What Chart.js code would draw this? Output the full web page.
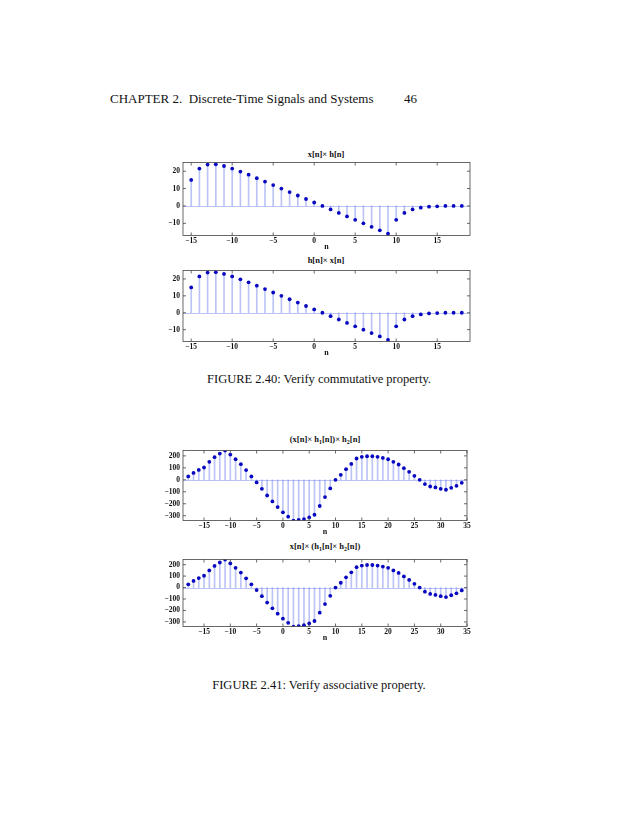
<!DOCTYPE html>
<html><head><meta charset="utf-8">
<script src="https://cdn.jsdelivr.net/npm/chart.js@4"></script>
<style>
html,body{margin:0;padding:0;background:#fff;}
#page{position:relative;width:638px;height:826px;background:#fff;font-family:"Liberation Serif","Times New Roman",serif;color:#111;}
.t{position:absolute;white-space:nowrap;}
.ttl{position:absolute;font-weight:bold;font-size:8.5px;transform:translate(-50%,-50%);white-space:nowrap;}
.ttl sub{font-size:6px;vertical-align:-2px;line-height:0;}
canvas{position:absolute;}
</style></head>
<body><div id="page">
<div class="t" style="left:110px;top:91px;font-size:13px;">CHAPTER 2.&nbsp; Discrete-Time Signals and Systems</div>
<div class="t" style="left:404px;top:91px;font-size:13px;">46</div>
<div class="ttl" style="left:326px;top:154px;">x[n]× h[n]</div>
<div class="ttl" style="left:326px;top:260px;">h[n]× x[n]</div>
<div class="ttl" style="left:325px;top:439px;">(x[n]× h<sub>1</sub>[n])× h<sub>2</sub>[n]</div>
<div class="ttl" style="left:325px;top:546px;">x[n]× (h<sub>1</sub>[n]× h<sub>2</sub>[n])</div>
<canvas id="c1" width="350" height="97" style="left:130px;top:155px;"></canvas>
<canvas id="c2" width="350" height="95" style="left:130px;top:263px;"></canvas>
<canvas id="c3" width="350" height="94" style="left:130px;top:443px;"></canvas>
<canvas id="c4" width="350" height="91" style="left:130px;top:552px;"></canvas>
<div class="t" style="left:319px;top:379px;font-size:12.5px;transform:translate(-50%,-50%);">FIGURE 2.40: Verify commutative property.</div>
<div class="t" style="left:319px;top:685px;font-size:12.5px;transform:translate(-50%,-50%);">FIGURE 2.41: Verify associative property.</div>
</div>
<script>
// ---- Data ----
const n1 = [-15,-14,-13,-12,-11,-10,-9,-8,-7,-6,-5,-4,-3,-2,-1,0,1,2,3,4,5,6,7,8,9,10,11,12,13,14,15,16,17,18];
const y1 = [15,21.5,23.8,24,23,21.5,19.8,18,16,14,12,10,8,6,4,2,0,-2,-4,-6,-8,-10,-12,-14,-16,-8,-4,-2,-1,-0.4,-0.2,0,0,0];
const y2 = [15,21.5,23.8,24,23,21.5,19.8,18,16,14,12,10,8,6,4,2,0,-2,-4,-6,-8,-10,-12,-14,-16,-8,-4,-2,-1,-0.4,-0.2,0,0,0];
const n3 = [-18,-17,-16,-15,-14,-13,-12,-11,-10,-9,-8,-7,-6,-5,-4,-3,-2,-1,0,1,2,3,4,5,6,7,8,9,10,11,12,13,14,15,16,17,18,19,20,21,22,23,24,25,26,27,28,29,30,31,32,33,34];
const y3 = [28,58,83,103,150,189,219,244,211,172,131,81,28,-22,-75,-131,-181,-228,-272,-308,-342,-336,-328,-314,-292,-219,-144,-72,0,42,89,133,178,192,197,197,192,183,172,150,128,97,67,33,0,-36,-56,-64,-75,-83,-67,-50,-25];
const y4 = [28,58,83,103,150,189,219,244,211,172,131,81,28,-22,-75,-131,-181,-228,-272,-308,-342,-336,-328,-314,-292,-219,-144,-72,0,42,89,133,178,192,197,197,192,183,172,150,128,97,67,33,0,-36,-56,-64,-75,-83,-67,-50,-25];
const xTicks1 = [-15,-10,-5,0,5,10,15];
const yTicks1 = [-10,0,10,20];
const xTicks3 = [-15,-10,-5,0,5,10,15,20,25,30,35];
const yTicks3 = [-300,-200,-100,0,100,200];

const STEM = 'rgba(80,100,235,0.38)';
const DOT = '#0808c0';
const tickFont = {family:'"Liberation Serif", serif', size:7.5, weight:'bold'};

const fmt = v => (v < 0 ? '\u2212' + Math.abs(v) : String(v));

const boxPlugin = {
  id: 'box',
  beforeDatasetsDraw(chart) {
    const {ctx, chartArea: a, scales: {x, y}} = chart;
    const py = Math.round(y.getPixelForValue(0)) + 0.5;
    ctx.save();
    ctx.strokeStyle = STEM; ctx.lineWidth = 1;
    ctx.beginPath(); ctx.moveTo(a.left, py); ctx.lineTo(a.right, py); ctx.stroke();
    ctx.restore();
  },
  afterDraw(chart) {
    const {ctx, chartArea: a, scales: {x, y}} = chart;
    ctx.save();
    ctx.strokeStyle = '#444'; ctx.lineWidth = 0.8;
    ctx.strokeRect(a.left, a.top, a.right - a.left, a.bottom - a.top);
    const L = 3;
    ctx.beginPath();
    x.ticks.forEach(t => {
      const p = x.getPixelForValue(t.value);
      ctx.moveTo(p, a.bottom); ctx.lineTo(p, a.bottom - L);
      ctx.moveTo(p, a.top); ctx.lineTo(p, a.top + L);
    });
    y.ticks.forEach(t => {
      const p = y.getPixelForValue(t.value);
      ctx.moveTo(a.left, p); ctx.lineTo(a.left + L, p);
      ctx.moveTo(a.right, p); ctx.lineTo(a.right - L, p);
    });
    ctx.stroke();
    ctx.restore();
  }
};

function makeStem(id, ns, ys, xmin, xmax, ymin, ymax, xt, yt, padRight) {
  const pts = ns.map((n, i) => ({x: n, y: ys[i]}));
  new Chart(document.getElementById(id), {
    type: 'scatter',
    data: {datasets: [
      {type: 'scatter', data: pts, backgroundColor: DOT, borderColor: DOT, pointRadius: 1.9, pointBorderWidth: 0, order: 0},
      {type: 'bar', data: pts, backgroundColor: STEM, borderWidth: 0, barThickness: 1, order: 1}
    ]},
    options: {
      responsive: false, animation: false, devicePixelRatio: 1,
      layout: {padding: {top: 6, right: padRight, left: 0, bottom: 0}},
      plugins: {legend: {display: false}, tooltip: {enabled: false}, title: {display: false}},
      scales: {
        x: {type: 'linear', min: xmin, max: xmax, offset: false,
            grid: {display: false, drawTicks: false}, border: {display: false},
            afterBuildTicks: s => { s.ticks = xt.map(v => ({value: v})); },
            afterFit: s => { s.height = 16.5; },
            ticks: {font: tickFont, color: '#111', padding: 1, maxRotation: 0, callback: v => fmt(v)},
            title: {display: true, text: 'n', font: {family: '"Liberation Serif", serif', size: 8, weight: 'bold'}, color: '#111', padding: 0}},
        y: {type: 'linear', min: ymin, max: ymax,
            grid: {display: false, drawTicks: false}, border: {display: false},
            afterBuildTicks: s => { s.ticks = yt.map(v => ({value: v})); },
            afterFit: s => { s.width = 53; },
            ticks: {font: tickFont, color: '#111', padding: 3, callback: v => fmt(v)}}
      }
    },
    plugins: [boxPlugin]
  });
}

makeStem('c1', n1, y1, -16, 19, -17, 25, xTicks1, yTicks1, 10);
makeStem('c2', n1, y2, -16, 19, -17, 25, xTicks1, yTicks1, 10);
makeStem('c3', n3, y3, -19, 35, -340, 245, xTicks3, yTicks3, 13);
makeStem('c4', n3, y4, -19, 35, -340, 245, xTicks3, yTicks3, 13);
</script>
</body></html>
